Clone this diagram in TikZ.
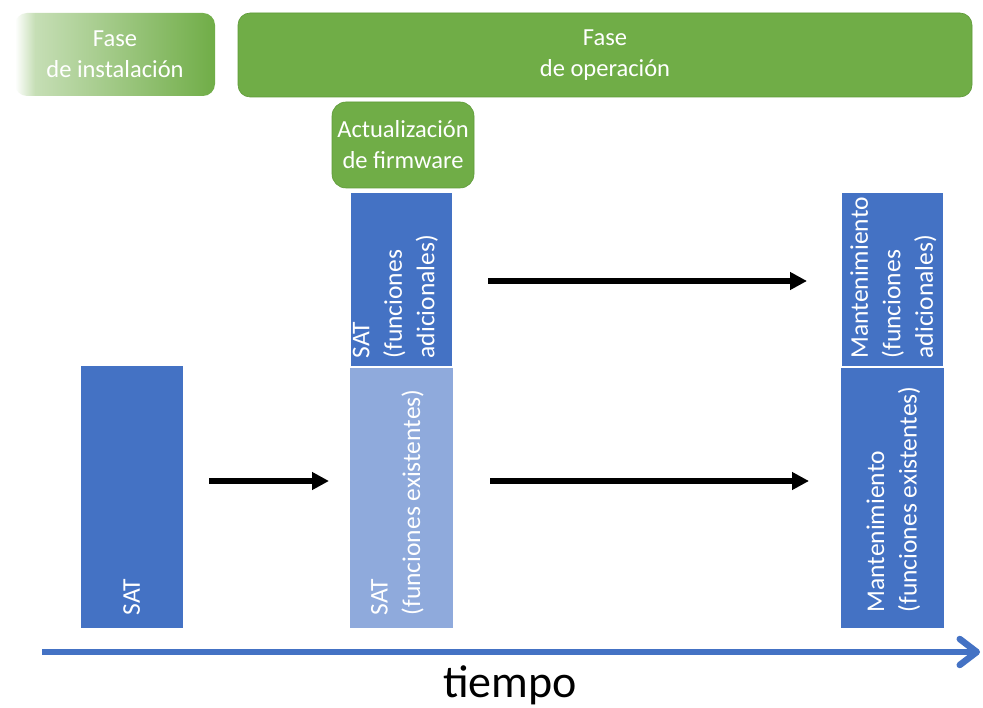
\documentclass[tikz,border=0pt]{standalone}
\usepackage{fontspec}
\setmainfont{Carlito}
\usetikzlibrary{arrows.meta}
\definecolor{G}{HTML}{70AD47}
\definecolor{GD}{HTML}{5E9A38}
\definecolor{B}{HTML}{4472C4}
\definecolor{LB}{HTML}{8FAADC}
\pgfdeclarehorizontalshading{fadegreen}{100bp}{color(0bp)=(white); color(25bp)=(white); color(30bp)=(G!40); color(75bp)=(G); color(100bp)=(G)}
\tikzset{
  phase/.style={rounded corners=12pt, text=white, align=center, inner sep=0pt,
    font=\fontsize{24.5}{31}\selectfont},
  blk/.style={fill=B, draw=white, line width=0.6pt, inner sep=0pt, anchor=north west},
  vlabel/.style={rotate=90, anchor=west, align=left, text=white, inner sep=0pt,
    font=\fontsize{25.5}{32.5}\selectfont},
  arr/.style={draw=black, line width=5.5pt, -{Triangle[length=17pt,width=17pt]}},
  axis/.style={draw=B, line width=6.5pt, -{Straight Barb[length=17pt,width=26pt,round]}}
}
\begin{document}
\begin{tikzpicture}[x=1pt,y=-1pt]
\useasboundingbox[fill=white] (0,0) rectangle (983,708);

% phase boxes
\node[phase, shade, shading=fadegreen, minimum width=200pt, minimum height=83pt] (inst) at (115,54.5) {Fase\\de instalación};
\node[phase, fill=G, draw=GD, line width=0.6pt, minimum width=734pt, minimum height=84pt] (op) at (605,55) {Fase\\de operación};
\node[phase, fill=G, draw=GD, line width=0.6pt, rounded corners=14pt, minimum width=142pt, minimum height=86pt] (fw) at (403,145) {Actualización\\de firmware};

% blocks
\node[blk, minimum width=103pt, minimum height=263pt] (sat) at (80,365) {};
\node[blk, minimum width=102pt, minimum height=174pt] (satad) at (350,192) {};
\node[blk, fill=LB, minimum width=104pt, minimum height=261pt] (satex) at (349,367) {};
\node[blk, minimum width=102pt, minimum height=174pt] (mad) at (841,192) {};
\node[blk, minimum width=104pt, minimum height=261pt] (mex) at (840,367) {};

% rotated labels
\node[vlabel] (lsat) at ([yshift=13pt]sat.south) {SAT};
\node[vlabel] (lsatad) at ([xshift=-6pt,yshift=8pt]satad.south) {SAT\\(funciones\\adicionales)};
\node[vlabel] (lsatex) at ([xshift=-4pt,yshift=13pt]satex.south) {SAT\\(funciones existentes)};
\node[vlabel] (lmad) at ([xshift=1pt,yshift=8pt]mad.south) {Mantenimiento\\(funciones\\adicionales)};
\node[vlabel] (lmex) at ([xshift=1pt,yshift=16pt]mex.south) {Mantenimiento\\(funciones existentes)};

% arrows
\coordinate (a1s) at (209,481);
\coordinate (a1e) at (329,481);
\coordinate (a2s) at (488,281);
\coordinate (a2e) at (807,281);
\coordinate (a3s) at (490,481);
\coordinate (a3e) at (809,481);
\draw[arr] (a1s) -- (a1e);
\draw[arr] (a2s) -- (a2e);
\draw[arr] (a3s) -- (a3e);

% time axis
\coordinate (ts) at (42,652);
\coordinate (te) at (980,652);
\draw[axis] (ts) -- (te);
\node[anchor=base, inner sep=0pt, font=\fontsize{46}{50}\selectfont] (tiempo) at (510,697) {tiempo};
\end{tikzpicture}
\end{document}
